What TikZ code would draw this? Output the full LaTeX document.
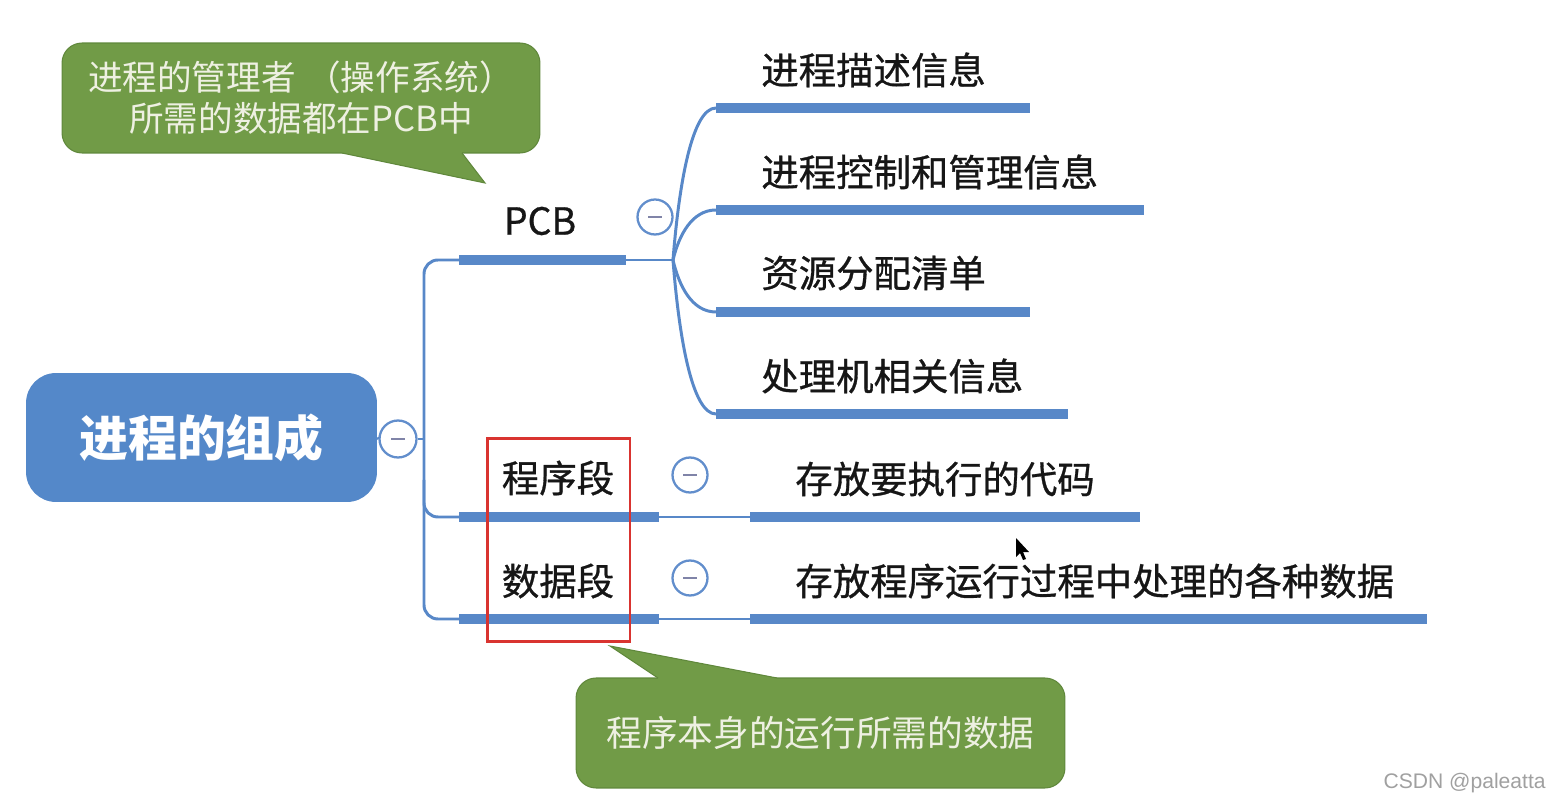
\documentclass[tikz,border=0pt]{standalone}
\usepackage{fontspec}
\setmainfont{Noto Sans CJK SC}
\newfontfamily\medcjk{Noto Sans CJK SC}[FakeBold=0.8]
\newfontfamily\wmfont{Liberation Sans}
\newcommand\myfs[1]{\fontsize{#1pt}{#1pt}\selectfont}
\definecolor{rootblue}{RGB}{84,136,201}
\definecolor{lineblue}{RGB}{88,136,200}
\definecolor{circblue}{RGB}{98,142,204}
\definecolor{minusc}{RGB}{128,132,168}
\definecolor{cgreen}{RGB}{113,155,71}
\definecolor{cgreenD}{RGB}{96,136,60}
\definecolor{ctextc}{RGB}{238,240,226}
\definecolor{redc}{RGB}{217,52,48}
\definecolor{txt}{RGB}{22,22,22}
\definecolor{wmgray}{RGB}{160,160,160}
\begin{document}
\begin{tikzpicture}[x=0.02cm,y=-0.02cm,
  thinline/.style={draw=lineblue, line width=1.7pt},
  barline/.style={draw=lineblue, line width=5.2pt},
  toggle/.style={circle, draw=circblue, line width=1.3pt, fill=white,
    minimum size=0.7cm, inner sep=0pt,
    path picture={\draw[minusc, line width=1.6pt]
      ([xshift=-0.14cm]path picture bounding box.center) --
      ([xshift=0.14cm]path picture bounding box.center);}},
  leaf/.style={anchor=west, inner sep=0pt, text=txt, font=\medcjk\myfs{21.3}},
  seg/.style={inner sep=0pt, text=txt, font=\medcjk\myfs{21.3}},
  calloutbox/.style={fill=cgreen, draw=cgreenD, line width=0.6pt,
    rounded corners=0.4cm, text=ctextc, align=center, inner sep=0pt},
  tailfill/.style={fill=cgreen},
  tailedge/.style={draw=cgreenD, line width=0.6pt}
]
\useasboundingbox (0,0) rectangle (1548,803);

% root
\node[fill=rootblue, rounded corners=0.6cm, minimum width=7.02cm,
  minimum height=2.58cm, inner sep=0pt, text=white,
  font=\myfs{27.8}\bfseries] (root) at (201.5,437.5) {进程的组成};
\node[toggle, minimum size=0.74cm] (c0) at (398,439) {};

% trunk coordinates
\coordinate (tMid) at (424,439);
\coordinate (tTop) at (424,260);
\coordinate (tProg) at (424,517);
\coordinate (tProgUp) at (424,480);
\coordinate (tBot) at (424,619);

\coordinate (pcbL) at (459,260);
\coordinate (pcbR) at (626,260);
\coordinate (pcbJ) at (673,260);
\coordinate (progL) at (459,517);
\coordinate (progR) at (659,517);
\coordinate (dataL) at (459,619);
\coordinate (dataR) at (659,619);

\coordinate (k1L) at (716,108); \coordinate (k1R) at (1030,108);
\coordinate (k2L) at (716,210); \coordinate (k2R) at (1144,210);
\coordinate (k3L) at (716,312); \coordinate (k3R) at (1030,312);
\coordinate (k4L) at (716,414); \coordinate (k4R) at (1068,414);
\coordinate (pcL) at (750,517); \coordinate (pcR) at (1140,517);
\coordinate (dcL) at (750,619); \coordinate (dcR) at (1427,619);

% connectors
\draw[thinline] (root.east) -- (c0.west);
\draw[thinline] (c0.east) -- (tMid);
\draw[thinline, rounded corners=0.28cm] (pcbL) -- (tTop) -- (tBot) -- (dataL);
\draw[thinline, rounded corners=0.28cm] (tProgUp) -- (tProg) -- (progL);

\draw[thinline] (pcbR) -- (pcbJ);
\draw[thinline] (pcbJ) .. controls (679,184) and (692,108) .. (k1L);
\draw[thinline] (pcbJ) .. controls (679,235) and (692,210) .. (k2L);
\draw[thinline] (pcbJ) .. controls (679,286) and (692,312) .. (k3L);
\draw[thinline] (pcbJ) .. controls (679,337) and (692,414) .. (k4L);
\draw[thinline] (progR) -- (pcL);
\draw[thinline] (dataR) -- (dcL);

% bars
\draw[barline] (pcbL) -- (pcbR);
\draw[barline] (progL) -- (progR);
\draw[barline] (dataL) -- (dataR);
\draw[barline] (k1L) -- (k1R);
\draw[barline] (k2L) -- (k2R);
\draw[barline] (k3L) -- (k3R);
\draw[barline] (k4L) -- (k4R);
\draw[barline] (pcL) -- (pcR);
\draw[barline] (dcL) -- (dcR);

% labels
\node[seg] (pcb) at (540,221) {PCB};
\node[toggle] (cpcb) at (655,217) {};
\node[seg] (prog) at (558,478) {程序段};
\node[toggle] (cprog) at (690,475) {};
\node[seg] (data) at (558,581) {数据段};
\node[toggle] (cdata) at (690,578) {};

\node[leaf] (k1) at (761,70) {进程描述信息};
\node[leaf] (k2) at (761,172) {进程控制和管理信息};
\node[leaf] (k3) at (761,273) {资源分配清单};
\node[leaf] (k4) at (761,376) {处理机相关信息};
\node[leaf] (pc) at (795,479) {存放要执行的代码};
\node[leaf] (dc) at (795,581) {存放程序运行过程中处理的各种数据};

% highlight frame
\node[draw=redc, line width=1.7pt, minimum width=2.86cm,
  minimum height=4.08cm, inner sep=0pt] (hl) at (558.5,540) {};

% callout 1
\node[calloutbox, minimum width=9.56cm, minimum height=2.2cm,
  font=\fontsize{19.7pt}{23.2pt}\selectfont] (note1) at (301,98)
  {进程的管理者\hspace{0.3em}（操作系统）\hspace{0.3em}\\ 所需的数据都在PCB中};
\fill[tailfill] (342,149) -- (342,153) -- (485,183) -- (462,153) -- (462,149) -- cycle;
\draw[tailedge] (342,153) -- (485,183) -- (462,153);

% callout 2
\node[calloutbox, minimum width=9.78cm, minimum height=2.2cm,
  font=\myfs{20.3}] (note2) at (820.5,733) {程序本身的运行所需的数据};
\fill[tailfill] (658,682) -- (658,678) -- (610,646) -- (777,678) -- (777,682) -- cycle;
\draw[tailedge] (658,678) -- (610,646) -- (777,678);

% mouse cursor
\fill[black] (1016,538) -- (1016,557) -- (1020,553) -- (1023,560)
  -- (1026,559) -- (1023,552) -- (1029,552) -- cycle;

% watermark
\node[anchor=east, inner sep=0pt, text=wmgray, font=\wmfont\myfs{12}] (wm)
  at (1546,783) {CSDN @paleatta};
\end{tikzpicture}
\end{document}
